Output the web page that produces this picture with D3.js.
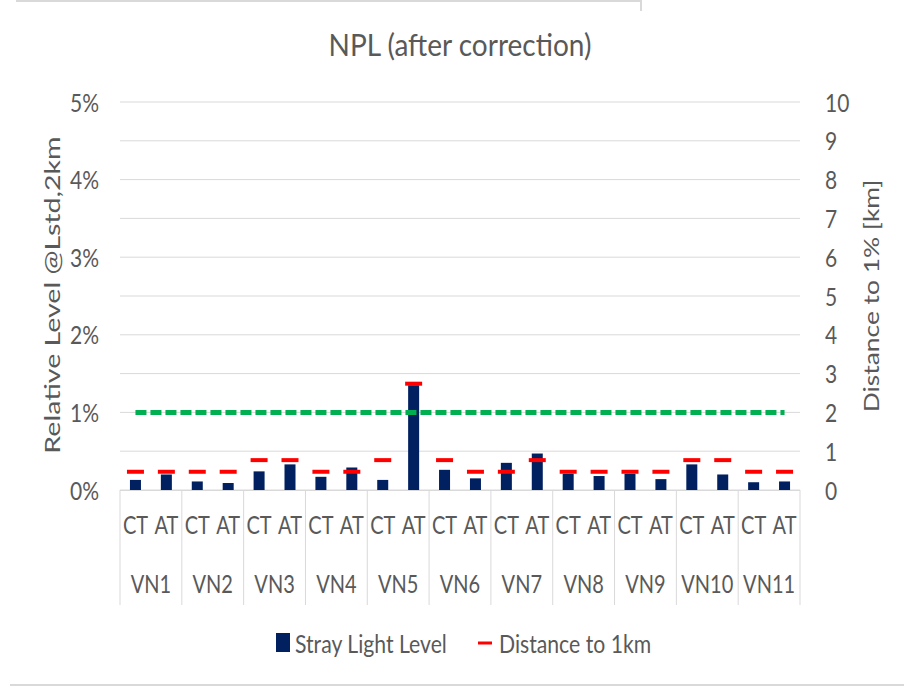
<!DOCTYPE html>
<html>
<head>
<meta charset="utf-8">
<script src="https://cdn.jsdelivr.net/npm/d3@7/dist/d3.min.js"></script>
<style>
  html, body { margin: 0; padding: 0; background: #ffffff; }
  svg { display: block; }
  text { font-family: Lato, "Open Sans", sans-serif; fill: #595959; }
</style>
</head>
<body>
<svg id="chart" width="904" height="687"></svg>
<script>
// ---------------- data ----------------
const groups = ["VN1", "VN2", "VN3", "VN4", "VN5", "VN6", "VN7", "VN8", "VN9", "VN10", "VN11"];
const subCategories = ["CT", "AT"];
// Stray light level (percent), order: VN1 CT, VN1 AT, VN2 CT, ...
const strayLight = [0.13, 0.20, 0.11, 0.09, 0.24, 0.33, 0.17, 0.29, 0.13, 1.35, 0.26, 0.15,
                    0.35, 0.47, 0.21, 0.18, 0.21, 0.14, 0.33, 0.20, 0.10, 0.11];
// Distance to 1% (km), right axis
const distance = [0.47, 0.47, 0.47, 0.47, 0.77, 0.77, 0.47, 0.47, 0.77, 2.74, 0.77, 0.47,
                  0.47, 0.77, 0.47, 0.47, 0.47, 0.47, 0.77, 0.77, 0.47, 0.47];
// 1% threshold line (left axis, percent)
const threshold = [1, 1, 1, 1, 1, 1, 1, 1, 1, 1, 1, 1, 1, 1, 1, 1, 1, 1, 1, 1, 1, 1];
const leftTicks = [0, 1, 2, 3, 4, 5];
const leftTickLabels = ["0%", "1%", "2%", "3%", "4%", "5%"];
const rightTicks = [0, 1, 2, 3, 4, 5, 6, 7, 8, 9, 10];
const title = "NPL (after correction)";
const leftTitle = "Relative Level @Lstd,2km";
const rightTitle = "Distance to 1% [km]";
const legendLabels = ["Stray Light Level", "Distance to 1km"];

// ---------------- layout ----------------
const W = 904, H = 687;
const plot = { left: 120, right: 800, top: 102, bottom: 490 };
const TXT = "#595959", GRID = "#d9d9d9";
const BAR = "#002060", RED = "#ff0000", GREEN = "#00b050";
const SY = 1.22; // vertical stretch of the reference's text

const svg = d3.select("#chart");

const keys = [];
groups.forEach(g => subCategories.forEach(s => keys.push(g + "|" + s)));
const rows = keys.map((k, i) => ({ key: k, group: k.split("|")[0], sub: k.split("|")[1],
  stray: strayLight[i], dist: distance[i], thr: threshold[i] }));

const x = d3.scaleBand().domain(keys).range([plot.left, plot.right]).padding(0);
const xg = d3.scaleBand().domain(groups).range([plot.left, plot.right]).padding(0);
const yL = d3.scaleLinear().domain([0, 5]).range([plot.bottom, plot.top]);
const yR = d3.scaleLinear().domain([0, 10]).range([plot.bottom, plot.top]);

function label(parent, tx, ty, str, size, anchor, sx, sy, rot) {
  return parent.append("text")
    .attr("transform", `translate(${tx},${ty})` + (rot ? ` rotate(${rot})` : "") + ` scale(${sx},${sy})`)
    .attr("text-anchor", anchor).attr("dominant-baseline", "central")
    .attr("font-size", size).text(str);
}

// outer border fragments
svg.append("line").attr("x1", 16).attr("x2", 641).attr("y1", 1).attr("y2", 1)
  .attr("stroke", "#d9d9d9").attr("stroke-width", 2);
svg.append("line").attr("x1", 641).attr("x2", 641).attr("y1", 0).attr("y2", 11)
  .attr("stroke", "#d9d9d9").attr("stroke-width", 2);
svg.append("line").attr("x1", 10).attr("x2", W).attr("y1", 685).attr("y2", 685)
  .attr("stroke", "#d9d9d9").attr("stroke-width", 2);

// gridlines (right axis major ticks)
svg.append("g").selectAll("line").data(rightTicks).join("line")
  .attr("x1", plot.left).attr("x2", plot.right)
  .attr("y1", d => yR(d)).attr("y2", d => yR(d))
  .attr("stroke", GRID).attr("stroke-width", 1);

// title
label(svg, 460, 44, title, 28, "middle", 1, 1.08);

// left axis
const leftAxis = d3.axisLeft(yL).tickValues(leftTicks).tickSize(0).tickPadding(0)
  .tickFormat((d, i) => leftTickLabels[i]);
const gl = svg.append("g").attr("transform", `translate(99,0)`).call(leftAxis);
gl.select(".domain").remove();
gl.selectAll("text").attr("font-size", 20).attr("fill", TXT)
  .attr("font-family", "Lato, sans-serif").attr("dy", null)
  .attr("dominant-baseline", "central").attr("transform", `scale(1.05,${SY})`);

// right axis
const rightAxis = d3.axisRight(yR).tickValues(rightTicks).tickSize(0).tickPadding(0)
  .tickFormat(d3.format("d"));
const gr = svg.append("g").attr("transform", `translate(825,0)`).call(rightAxis);
gr.select(".domain").remove();
gr.selectAll("text").attr("font-size", 20).attr("fill", TXT)
  .attr("font-family", "Lato, sans-serif").attr("dy", null)
  .attr("dominant-baseline", "central").attr("transform", `scale(1.05,${SY})`);

// axis titles (rotated; stretched along their length)
label(svg, 51, 295, leftTitle, 22, "middle", 1.3, 1, -90);
label(svg, 870, 296, rightTitle, 22, "middle", 1.2, 1, -90);

// category axis box
svg.append("line").attr("x1", plot.left).attr("x2", plot.right)
  .attr("y1", plot.bottom + 0.5).attr("y2", plot.bottom + 0.5)
  .attr("stroke", GRID).attr("stroke-width", 1);
const sepX = groups.map(g => xg(g)).concat([plot.right]);
svg.append("g").selectAll("line").data(sepX).join("line")
  .attr("x1", d => d).attr("x2", d => d).attr("y1", plot.bottom).attr("y2", 605)
  .attr("stroke", GRID).attr("stroke-width", 1);

const gSub = svg.append("g");
rows.forEach(d => label(gSub, x(d.key) + x.bandwidth() / 2, 525, d.sub, 20, "middle", 1, SY));
const gGrp = svg.append("g");
groups.forEach(g => label(gGrp, xg(g) + xg.bandwidth() / 2, 584, g, 20, "middle", 1, SY));

// bars
const barW = 11;
svg.append("g").selectAll("rect").data(rows).join("rect")
  .attr("x", d => x(d.key) + x.bandwidth() / 2 - barW / 2)
  .attr("width", barW)
  .attr("y", d => yL(d.stray))
  .attr("height", d => yL(0) - yL(d.stray))
  .attr("fill", BAR);

// green 1% threshold line
const line = d3.line().x(d => x(d.key) + x.bandwidth() / 2).y(d => yL(d.thr));
svg.append("path").datum(rows).attr("d", line)
  .attr("fill", "none").attr("stroke", GREEN).attr("stroke-width", 5)
  .attr("stroke-dasharray", "11,4");

// red distance markers
const dashW = 17;
svg.append("g").selectAll("line").data(rows).join("line")
  .attr("x1", d => x(d.key) + x.bandwidth() / 2 - dashW / 2)
  .attr("x2", d => x(d.key) + x.bandwidth() / 2 + dashW / 2)
  .attr("y1", d => yR(d.dist)).attr("y2", d => yR(d.dist))
  .attr("stroke", RED).attr("stroke-width", 4);

// legend
const lg = svg.append("g");
lg.append("rect").attr("x", 276).attr("y", 633).attr("width", 14).attr("height", 19).attr("fill", BAR);
label(lg, 295, 643, legendLabels[0], 20, "start", 1.06, SY);
lg.append("line").attr("x1", 478).attr("x2", 492).attr("y1", 643).attr("y2", 643)
  .attr("stroke", RED).attr("stroke-width", 3);
label(lg, 499, 643, legendLabels[1], 20, "start", 1.06, SY);
</script>
</body>
</html>
